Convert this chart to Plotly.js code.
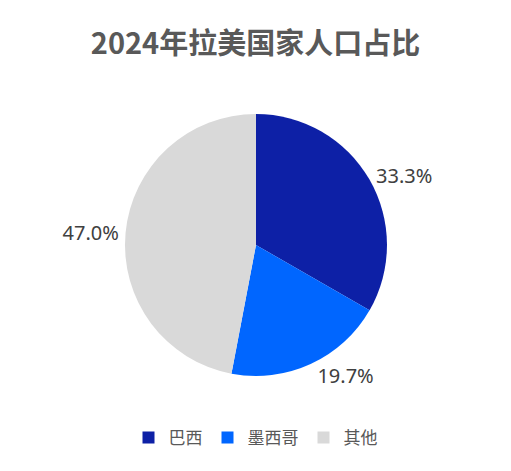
<!DOCTYPE html>
<html>
<head>
<meta charset="utf-8">
<script src="https://cdn.plot.ly/plotly-3.0.1.min.js"></script>
<style>html,body{margin:0;padding:0;background:#fff;}#chart{width:511px;height:471px;}</style>
</head>
<body>
<div id="chart"></div>
<script>
const categories = ["巴西", "墨西哥", "其他"];
const shares = [33.3, 19.7, 47.0];
const colors = ["#0D20A6", "#0066FF", "#D9D9D9"];

const trace = {
  type: "pie",
  labels: categories,
  values: shares,
  sort: false,
  direction: "clockwise",
  rotation: 0,
  marker: {colors: colors, line: {color: "#ffffff", width: 0}},
  textposition: "outside",
  texttemplate: "%{value:.1f}%",
  textfont: {family: "Noto Sans, sans-serif", size: 20, color: "#404040"},
  hoverinfo: "label+percent",
  domain: {x: [0.2446, 0.7573], y: [0.2017, 0.758]},
  automargin: false
};

const layout = {
  width: 511,
  height: 471,
  margin: {l: 0, r: 0, t: 0, b: 0},
  paper_bgcolor: "#ffffff",
  title: {
    text: "<b>2024年拉美国家人口占比</b>",
    font: {family: "Noto Sans CJK SC, sans-serif", size: 29, color: "#595959"},
    x: 0.5, xanchor: "center",
    y: 0.907, yanchor: "middle", yref: "container"
  },
  showlegend: true,
  legend: {
    orientation: "h",
    x: 0.5, xanchor: "center",
    y: 0.07, yanchor: "middle",
    font: {family: "Noto Sans CJK SC, sans-serif", size: 17, color: "#595959"},
    itemwidth: 30,
    traceorder: "normal"
  }
};

Plotly.newPlot("chart", [trace], layout, {displayModeBar: false, staticPlot: true});
</script>
</body>
</html>
